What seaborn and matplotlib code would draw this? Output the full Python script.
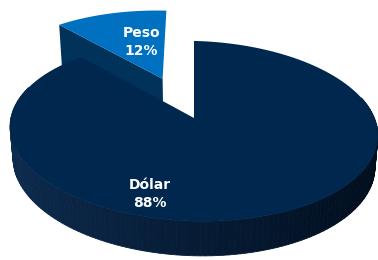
import numpy as np
import matplotlib.pyplot as plt
import seaborn as sns

labels = ["Dólar", "Peso"]
shares = [88, 12]
explode = [0.0, 0.5]
depth = [0.2, 0.3]
top_colors = ["#00284f", "#0070c0"]
cut_colors = ["#00223f", "#00325a"]
wall_left, wall_right = np.array([0.05, 0.17, 0.31]), np.array([0.0, 0.05, 0.11])
label_pos = [(-0.215, -0.776), (-0.144, 0.504)]  # world coords, relative to slice offset

sns.set_theme(style="white")
plt.rcParams['font.family'] = ['Liberation Sans Narrow', 'DejaVu Sans']

# simple perspective camera
alpha = np.radians(29)
sa, ca = np.sin(alpha), np.cos(alpha)
D, S, cx, cy, shear = 6.05, 1101, 194, 118, 0.025


def proj(X, Y, Z):
    w = D + Y * ca - Z * sa
    px = S * X / w
    return cx + px, cy - S * (Y * sa + Z * ca) / w + shear * px


fig = plt.figure(figsize=(3.78, 2.60), dpi=100)
ax = fig.add_axes([0, 0, 1, 1])
ax.set_xlim(0, 378)
ax.set_ylim(260, 0)
ax.axis('off')

fracs = np.array(shares) / sum(shares)
starts = 90 - np.concatenate([[0], np.cumsum(fracs)[:-1]]) * 360
ends = starts - fracs * 360

# exploded Peso sits behind, so draw it first
for i in [1, 0]:
    h = depth[i]
    mid = np.radians((starts[i] + ends[i]) / 2)
    ox, oy = explode[i] * np.cos(mid), explode[i] * np.sin(mid)
    t = np.radians(np.linspace(starts[i], ends[i], 200))
    # cut face facing the viewer (Peso's left edge)
    if i == 1:
        a = np.radians(starts[i])
        pts = [proj(ox, oy, 0), proj(ox + np.cos(a), oy + np.sin(a), 0),
               proj(ox + np.cos(a), oy + np.sin(a), -h), proj(ox, oy, -h)]
        ax.fill([p[0] for p in pts], [p[1] for p in pts], color=cut_colors[i], lw=0)
    # outer wall, strips from back to front
    xs, ys = ox + np.cos(t), oy + np.sin(t)
    idx = np.argsort(-ys[:-1])
    for k in idx:
        if ys[k] > 0.3:
            continue
        p1 = proj(xs[k], ys[k], 0)
        p2 = proj(xs[k + 1], ys[k + 1], 0)
        p3 = proj(xs[k + 1], ys[k + 1], -h)
        p4 = proj(xs[k], ys[k], -h)
        f = (np.clip(xs[k], -1, 1) + 1) / 2
        col = wall_left * (1 - f) + wall_right * f
        ax.fill([p1[0], p2[0], p3[0], p4[0]], [p1[1], p2[1], p3[1], p4[1]],
                color=col, lw=0.6, ec=col)
    # top face
    tx, ty = proj(np.r_[ox, xs, ox], np.r_[oy, ys, oy], 0)
    ax.fill(tx, ty, color=top_colors[i], lw=0)
    lx, ly = proj(ox + label_pos[i][0], oy + label_pos[i][1], 0)
    ax.text(lx, ly, f"{labels[i]}\n{shares[i]}%", ha='center', va='center',
            color='white', fontsize=10, fontweight='bold', linespacing=1.35)

fig.savefig("out.png", dpi=100)
